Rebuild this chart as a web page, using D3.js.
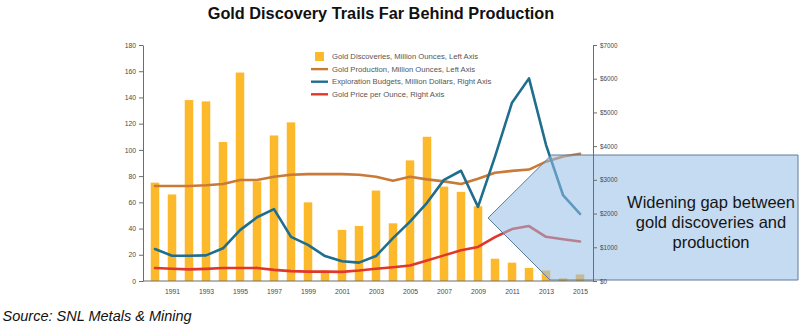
<!DOCTYPE html>
<html>
<head>
<meta charset="utf-8">
<script src="https://cdn.jsdelivr.net/npm/d3@7"></script>
<style>
  body { margin: 0; background: #fff; }
  svg { display: block; font-family: "Liberation Sans", Arial, Helvetica, sans-serif; }
</style>
</head>
<body>
<svg id="chart" width="812" height="325"></svg>
<script>
// ---- data -------------------------------------------------------------
const years = [1990, 1991, 1992, 1993, 1994, 1995, 1996, 1997, 1998, 1999,
               2000, 2001, 2002, 2003, 2004, 2005, 2006, 2007, 2008, 2009,
               2010, 2011, 2012, 2013, 2014, 2015];

// Gold discoveries, million ounces (left axis)
const discoveries = [75, 66, 138, 137, 106, 159, 76, 111, 121, 60,
                     8, 39, 42, 69, 44, 92, 110, 72, 68, 57,
                     17, 14, 10, 8, 2, 5];

// Gold production, million ounces (left axis)
const production = [72.5, 72.5, 72.5, 73, 74, 77, 77, 79.5, 81, 81.5,
                    81.5, 81.5, 81, 79.5, 76.5, 79.5, 77.5, 76, 74, 78,
                    82.5, 84, 85, 91, 95, 97];

// Exploration budgets, million dollars (right axis)
const budgets = [950, 750, 750, 760, 970, 1510, 1890, 2130, 1310, 1070,
                 740, 585, 545, 740, 1270, 1760, 2320, 3000, 3270, 2200,
                 3690, 5290, 6010, 4040, 2550, 1990];

// Gold price per ounce, dollars (right axis)
const goldPrice = [384, 362, 344, 360, 384, 384, 388, 331, 294, 279,
                   279, 271, 310, 363, 409, 460, 610, 760, 910, 1010,
                   1300, 1540, 1630, 1310, 1240, 1170];

const leftTicks  = [0, 20, 40, 60, 80, 100, 120, 140, 160, 180];
const rightTicks = [0, 1000, 2000, 3000, 4000, 5000, 6000, 7000];
const yearTicks  = [1991, 1993, 1995, 1997, 1999, 2001, 2003, 2005, 2007, 2009, 2011, 2013, 2015];

const legendItems = [
  { label: "Gold Discoveries, Million Ounces, Left Axis", type: "bar",  color: "#fdb92c" },
  { label: "Gold Production, Million Ounces, Left Axis",  type: "line", color: "#c97a36" },
  { label: "Exploration Budgets, Million Dollars, Right Axis", type: "line", color: "#1f6e8e" },
  { label: "Gold Price per Ounce, Right Axis", type: "line", color: "#e0362b" }
];

const calloutLines = ["Widening gap between", "gold discoveries and", "production"];

// ---- layout -----------------------------------------------------------
const svg = d3.select("#chart");
const axisLeftX = 143, axisRightX = 593;
const plotTop = 45, plotBottom = 281;

const x  = d3.scalePoint().domain(years).range([155, 580]);
const yL = d3.scaleLinear().domain([0, 180]).range([plotBottom, plotTop]);
const yR = d3.scaleLinear().domain([0, 7000]).range([plotBottom, plotTop]);
const barW = 8.5;

// title
svg.append("text")
  .attr("x", 381).attr("y", 19)
  .attr("text-anchor", "middle")
  .attr("font-size", "16.3px").attr("font-weight", "bold")
  .attr("fill", "#111")
  .text("Gold Discovery Trails Far Behind Production");

// bars: discoveries
svg.append("g").selectAll("rect")
  .data(years.map((yr, i) => ({ yr, v: discoveries[i] })))
  .join("rect")
  .attr("x", d => x(d.yr) - barW / 2)
  .attr("width", barW)
  .attr("y", d => yL(d.v))
  .attr("height", d => yL(0) - yL(d.v))
  .attr("fill", "#fdb92c");

// lines
function drawLine(values, yScale, color) {
  const line = d3.line()
    .x((d, i) => x(years[i]))
    .y(d => yScale(d));
  svg.append("path")
    .datum(values)
    .attr("d", line)
    .attr("fill", "none")
    .attr("stroke", color)
    .attr("stroke-width", 2.6)
    .attr("stroke-linejoin", "round")
    .attr("stroke-linecap", "round");
}
drawLine(production, yL, "#c97a36");
drawLine(goldPrice, yR, "#e0362b");
drawLine(budgets, yR, "#1f6e8e");

// callout shape pointing into the recent years
const calloutTop = 155, calloutBottom = 280, calloutRight = 798;
const tipX = 488, tipY = 218;
const callout = [
  [tipX, tipY], [551.5, calloutTop], [calloutRight, calloutTop],
  [calloutRight, calloutBottom], [550, calloutBottom]
];
svg.append("path")
  .attr("d", d3.line()(callout) + "Z")
  .attr("fill", "rgb(150,190,232)")
  .attr("fill-opacity", 0.55)
  .attr("stroke", "#5f7d9b")
  .attr("stroke-width", 1);

// axes
const axisColor = "#6d6d6d";
const tickFont = "6.8px";

const gL = svg.append("g")
  .attr("transform", `translate(${axisLeftX},0)`)
  .call(d3.axisLeft(yL).tickValues(leftTicks).tickSize(4).tickSizeOuter(0).tickPadding(3));
const gR = svg.append("g")
  .attr("transform", `translate(${axisRightX},0)`)
  .call(d3.axisRight(yR).tickValues(rightTicks).tickSize(4).tickSizeOuter(0).tickPadding(3)
    .tickFormat(d => "$" + d));
const gB = svg.append("g")
  .attr("transform", `translate(0,${plotBottom})`)
  .call(d3.axisBottom(x).tickValues(yearTicks).tickSize(0).tickPadding(8));
gB.select(".domain").remove();
svg.append("line")
  .attr("x1", axisLeftX).attr("x2", axisRightX)
  .attr("y1", plotBottom).attr("y2", plotBottom)
  .attr("stroke", axisColor).attr("stroke-width", 1);

[gL, gR, gB].forEach(g => {
  g.select(".domain").attr("stroke", axisColor);
  g.selectAll(".tick line").attr("stroke", axisColor);
  g.selectAll(".tick text")
    .attr("fill", "#4a4a4a")
    .attr("font-size", tickFont)
    .attr("font-family", "'Liberation Sans', Arial, sans-serif");
});
gR.selectAll(".tick text").attr("font-size", "6.3px");

// callout text
const ct = svg.append("text")
  .attr("text-anchor", "middle")
  .attr("font-size", "16.5px")
  .attr("fill", "#151515");
calloutLines.forEach((s, i) => {
  ct.append("tspan").attr("x", 711).attr("y", 207.5 + i * 20).text(s);
});

// legend
const legend = svg.append("g");
legendItems.forEach((d, i) => {
  const cy = 56.5 + i * 12.6;
  if (d.type === "bar") {
    legend.append("rect")
      .attr("x", 315).attr("y", cy - 4.5)
      .attr("width", 9).attr("height", 9)
      .attr("fill", d.color);
  } else {
    legend.append("line")
      .attr("x1", 311).attr("x2", 328)
      .attr("y1", cy).attr("y2", cy)
      .attr("stroke", d.color).attr("stroke-width", 2.4);
  }
  legend.append("text")
    .attr("x", 332).attr("y", cy + 2.7)
    .attr("font-size", "7.7px")
    .attr("fill", "#555")
    .text(d.label);
});

// source note
svg.append("text")
  .attr("x", 2.5).attr("y", 321)
  .attr("font-size", "14.5px")
  .attr("font-style", "italic")
  .attr("fill", "#111")
  .text("Source: SNL Metals & Mining");
</script>
</body>
</html>
